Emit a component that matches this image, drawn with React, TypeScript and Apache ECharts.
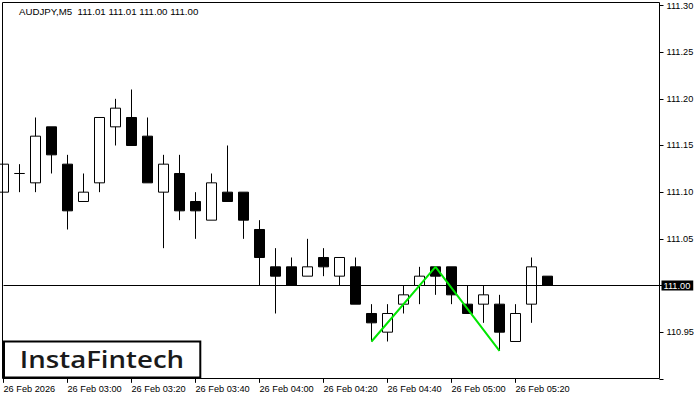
import React, { useEffect, useRef } from "react";
import * as echarts from "echarts";

const times = [
  "02:40", "02:45", "02:50", "02:55", "03:00", "03:05", "03:10", "03:15",
  "03:20", "03:25", "03:30", "03:35", "03:40", "03:45", "03:50", "03:55",
  "04:00", "04:05", "04:10", "04:15", "04:20", "04:25", "04:30", "04:35",
  "04:40", "04:45", "04:50", "04:55", "05:00", "05:05", "05:10", "05:15",
  "05:20", "05:25", "05:30", "05:35", "05:40", "05:45", "05:50", "05:55",
  "06:00", "06:05",
];

const opens = [
  111.10, 111.12, 111.11, 111.17, 111.13, 111.09, 111.11, 111.17, 111.18, 111.16,
  111.10, 111.12, 111.09, 111.07, 111.10, 111.10, 111.06, 111.02, 111.02, 111.01,
  111.03, 111.01, 111.02, 110.97, 110.95, 110.98, 111.00, 111.02, 111.02, 110.98,
  110.98, 110.98, 110.94, 110.98, 111.01,
];
const closes = [
  111.13, 111.12, 111.16, 111.14, 111.08, 111.10, 111.18, 111.19, 111.15, 111.11,
  111.13, 111.08, 111.08, 111.11, 111.09, 111.07, 111.03, 111.01, 111.00, 111.02,
  111.02, 111.03, 110.98, 110.96, 110.97, 110.99, 111.01, 111.01, 110.99, 110.97,
  110.99, 110.95, 110.97, 111.02, 111.00,
];
const lows = [
  111.10, 111.10, 111.10, 111.12, 111.06, 111.09, 111.10, 111.15, 111.15, 111.11,
  111.04, 111.07, 111.05, 111.07, 111.09, 111.05, 111.00, 110.97, 111.00, 111.01,
  111.01, 111.00, 110.98, 110.94, 110.94, 110.97, 110.98, 110.99, 110.98, 110.97,
  110.96, 110.93, 110.94, 110.96, 111.00,
];
const highs = [
  111.13, 111.13, 111.18, 111.17, 111.14, 111.12, 111.18, 111.20, 111.21, 111.18,
  111.14, 111.14, 111.10, 111.12, 111.15, 111.10, 111.07, 111.04, 111.03, 111.05,
  111.04, 111.03, 111.03, 110.98, 110.98, 111.00, 111.02, 111.02, 111.02, 111.00,
  111.00, 110.99, 110.98, 111.03, 111.01,
];

const patternIdx = [23, 27, 31];
const patternVals = [110.94, 111.02, 110.93];
const currentPrice = 111.0;
const headerText = "AUDJPY,M5  111.01 111.01 111.00 111.00";
const firstDateLabel = "26 Feb 2026";
const datePrefix = "26 Feb ";

export default function App() {
  const ref = useRef<HTMLDivElement>(null);

  useEffect(() => {
    if (!ref.current) return;
    const chart = echarts.init(ref.current, null, { renderer: "svg" });
    const font = "'Liberation Sans', Arial, sans-serif";
    const candleData = opens.map((o, i) => [o, closes[i], lows[i], highs[i]]);
    const showIdx = (i: number) => i % 4 === 0 && i < opens.length;

    chart.setOption({
      animation: false,
      backgroundColor: "#ffffff",
      grid: { left: 3.5, right: 40.5, top: 5.5, bottom: 21.17, containLabel: false },
      xAxis: {
        type: "category",
        data: times,
        boundaryGap: false,
        axisLine: { show: false },
        axisTick: {
          show: true,
          interval: (i: number) => showIdx(i),
          length: 4,
          lineStyle: { color: "#000" },
        },
        axisLabel: {
          interval: (i: number) => showIdx(i),
          formatter: (v: string, i: number) => (i === 0 ? firstDateLabel : datePrefix + v),
          align: "left",
          margin: 6,
          color: "#000",
          fontSize: 9.2,
          fontFamily: font,
        },
        splitLine: { show: false },
      },
      yAxis: {
        type: "value",
        position: "right",
        min: 110.9,
        max: 111.3,
        interval: 0.05,
        axisLine: { show: false },
        axisTick: { show: true, length: 4, lineStyle: { color: "#000" } },
        splitLine: { show: false },
        axisLabel: {
          margin: 2,
          formatter: (v: number) =>
            v < 110.925
              ? ""
              : Math.abs(v - currentPrice) < 1e-6
              ? `{hl|${v.toFixed(2)}}`
              : `{n|${v.toFixed(2)}}`,
          rich: {
            n: { fontSize: 9.2, fontFamily: font, color: "#000", padding: [0, 0, 0, 5] },
            hl: {
              fontSize: 9.2,
              fontFamily: font,
              color: "#fff",
              backgroundColor: "#000",
              padding: [1, 3, 0, 2],
            },
          },
        },
      },
      series: [
        {
          type: "candlestick",
          data: candleData,
          barWidth: 10,
          clip: true,
          itemStyle: {
            color: "#ffffff",
            color0: "#000000",
            borderColor: "#000000",
            borderColor0: "#000000",
            borderColorDoji: "#000000",
            borderWidth: 1,
          },
          markLine: {
            silent: true,
            symbol: ["none", "none"],
            label: { show: false },
            lineStyle: { color: "#000", width: 1, type: "solid" },
            data: [{ yAxis: currentPrice }],
          },
        },
        {
          type: "line",
          data: patternIdx.map((x, i) => [x, patternVals[i]]),
          symbol: "none",
          lineStyle: { color: "#00e600", width: 2 },
          z: 5,
        },
      ],
      graphic: [
        {
          type: "rect",
          z: 10,
          silent: true,
          shape: { x: 2.5, y: 2.5, width: 657, height: 376 },
          style: { fill: "none", stroke: "#000", lineWidth: 1 },
        },
        {
          type: "text",
          z: 10,
          x: 19,
          y: 6,
          style: {
            text: headerText,
            fill: "#000",
            font: `9.7px ${font}`,
            textVerticalAlign: "top",
          },
        },
        {
          type: "rect",
          z: 20,
          shape: { x: 4, y: 341.5, width: 196.3, height: 36 },
          style: { fill: "#fff", stroke: "#000", lineWidth: 2 },
        },
        {
          type: "text",
          z: 21,
          x: 102,
          y: 359,
          scaleX: 1.15,
          style: {
            text: "InstaFintech",
            fill: "#1a1a1a",
            font: `600 24px 'Open Sans', 'Noto Sans', sans-serif`,
            textAlign: "center",
            textVerticalAlign: "middle",
          },
        },
      ],
    });

    return () => chart.dispose();
  }, []);

  return (
    <div
      ref={ref}
      style={{ position: "fixed", left: 0, top: 0, width: 700, height: 400, background: "#fff" }}
    />
  );
}
